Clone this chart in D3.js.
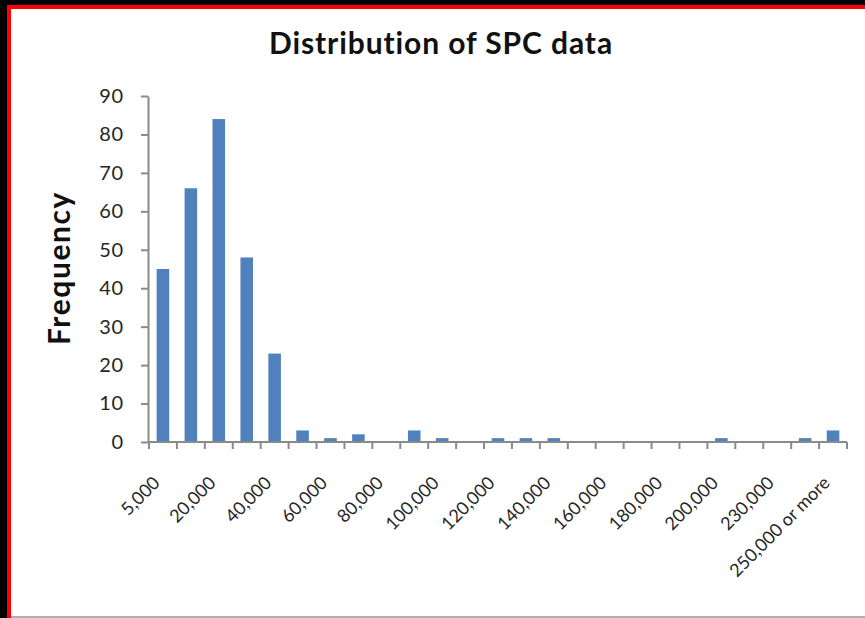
<!DOCTYPE html>
<html>
<head>
<meta charset="utf-8">
<script src="https://cdn.jsdelivr.net/npm/d3@7"></script>
<style>
  body { margin: 0; background: #000; }
  text { font-family: Lato, "Open Sans", sans-serif; }
</style>
</head>
<body>
<div id="chart"></div>
<script>
// histogram bins (upper bound of each bin) and counts
const categories = ["5,000", "10,000", "20,000", "30,000", "40,000", "50,000", "60,000", "70,000",
  "80,000", "90,000", "100,000", "110,000", "120,000", "130,000", "140,000", "150,000",
  "160,000", "170,000", "180,000", "190,000", "200,000", "220,000", "230,000", "240,000",
  "250,000 or more"];
const frequency = [45, 66, 84, 48, 23, 3, 1, 2, 0, 3, 1, 0, 1, 1, 1, 0, 0, 0, 0, 0, 1, 0, 0, 1, 3];
const yTicks = [0, 10, 20, 30, 40, 50, 60, 70, 80, 90];

const width = 865, height = 618;

const svg = d3.select("#chart").append("svg")
  .attr("width", width)
  .attr("height", height)
  .style("display", "block");

// frame: black outside, red edge, white sheet
svg.append("rect").attr("width", width).attr("height", height).attr("fill", "#000");
svg.append("rect").attr("x", 7).attr("y", 5).attr("width", width - 7).attr("height", height - 5).attr("fill", "#ff0000");
svg.append("rect").attr("x", 11).attr("y", 9).attr("width", width - 11).attr("height", 607).attr("fill", "#fff");
svg.append("rect").attr("x", 11).attr("y", 616).attr("width", width - 11).attr("height", 2).attr("fill", "#b0b0b0");

const x = d3.scaleBand()
  .domain(categories)
  .range([149, 847]);

const y = d3.scaleLinear()
  .domain([0, 90])
  .range([442, 96]);

const axisColor = "#8a8a8a";
const labelColor = "#262626";

// title
svg.append("text")
  .attr("x", 441)
  .attr("y", 54)
  .attr("text-anchor", "middle")
  .attr("font-size", 30)
  .attr("font-weight", "bold")
  .attr("letter-spacing", 0.9)
  .attr("fill", "#111")
  .text("Distribution of SPC data");

// y axis title
svg.append("text")
  .attr("transform", "translate(70,268) rotate(-90)")
  .attr("text-anchor", "middle")
  .attr("font-size", 30)
  .attr("font-weight", "bold")
  .attr("letter-spacing", 1.6)
  .attr("fill", "#111")
  .text("Frequency");

// bars
const barW = x.bandwidth() * 0.45;
svg.selectAll(".bar")
  .data(frequency)
  .enter()
  .append("rect")
  .attr("class", "bar")
  .attr("x", (d, i) => x(categories[i]) + (x.bandwidth() - barW) / 2)
  .attr("y", d => y(d))
  .attr("width", barW)
  .attr("height", d => y(0) - y(d))
  .attr("fill", "#4f81bd");

// y axis
const yAxis = svg.append("g")
  .attr("transform", "translate(148,0)")
  .call(d3.axisLeft(y).tickValues(yTicks).tickSize(7).tickSizeOuter(0).tickPadding(17));
yAxis.select(".domain").attr("stroke", axisColor).attr("stroke-width", 2);
yAxis.selectAll(".tick line").attr("stroke", axisColor).attr("stroke-width", 2);
yAxis.selectAll(".tick text")
  .attr("font-size", 20)
  .attr("fill", labelColor)
  .attr("letter-spacing", 0.8)
  .style("font-family", "Lato, sans-serif");

// x axis line and boundary ticks
const boundaries = categories.map(c => x(c)).concat([x.range()[1]]);
svg.append("line")
  .attr("x1", 148).attr("x2", x.range()[1])
  .attr("y1", y(0)).attr("y2", y(0))
  .attr("stroke", axisColor).attr("stroke-width", 2);
svg.selectAll(".xtick")
  .data(boundaries)
  .enter()
  .append("line")
  .attr("class", "xtick")
  .attr("x1", d => d).attr("x2", d => d)
  .attr("y1", y(0)).attr("y2", y(0) + 7)
  .attr("stroke", axisColor).attr("stroke-width", 2);

// x labels: every other category, rotated
svg.selectAll(".xlabel")
  .data(categories.filter((c, i) => i % 2 === 0))
  .enter()
  .append("text")
  .attr("class", "xlabel")
  .attr("transform", d => `translate(${x(d) + x.bandwidth() / 2 - 2},484) rotate(-45)`)
  .attr("text-anchor", "end")
  .attr("font-size", 18)
  .attr("fill", labelColor)
  .text(d => d);
</script>
</body>
</html>
